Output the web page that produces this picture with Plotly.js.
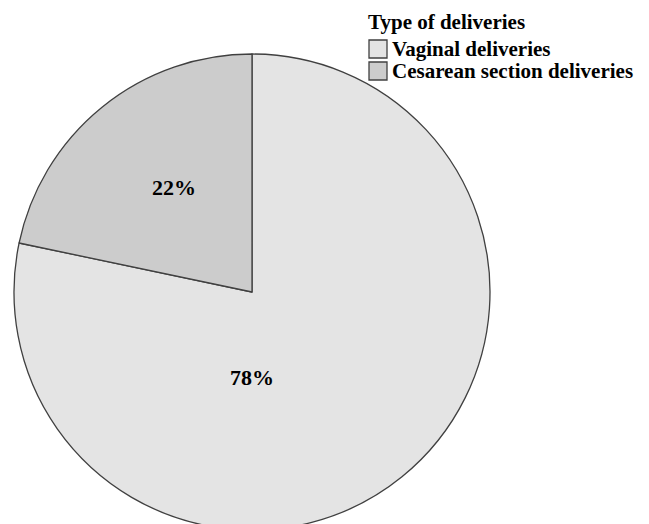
<!DOCTYPE html>
<html>
<head>
<meta charset="utf-8">
<script src="https://cdn.plot.ly/plotly-3.0.1.min.js"></script>
<style>
html,body{margin:0;padding:0;overflow:hidden;background:#fff;}
#wrap{width:649px;height:524px;overflow:hidden;position:relative;}
#chart{width:649px;height:540px;}
</style>
</head>
<body>
<div id="wrap"><div id="chart"></div></div>
<script>
const categories = ["Vaginal deliveries", "Cesarean section deliveries"];
const values = [78.3, 21.7];
const colors = ["#e4e4e4", "#cccccc"];
const legendTitle = "Type of deliveries";

const total = values.reduce((a, b) => a + b, 0);
const pctText = values.map(v => Math.round(v / total * 100) + "%");

const W = 649;
const H = 540;
const fontFam = "'Liberation Serif', 'Times New Roman', serif";
const px = x => x / W;
const py = y => 1 - y / H;

const trace = {
  type: "pie",
  labels: categories,
  values: values,
  sort: false,
  direction: "clockwise",
  rotation: 0,
  textinfo: "none",
  hoverinfo: "label+percent",
  marker: { colors: colors, line: { color: "#404040", width: 1.3 } },
  domain: { x: [px(14), px(490)], y: [py(530), py(54)] }
};

// custom legend (title, swatches, labels)
const shapes = [];
const annotations = [
  { text: "<b>" + legendTitle + "</b>", x: px(366), y: py(22), xref: "paper", yref: "paper",
    xanchor: "left", yanchor: "middle", showarrow: false,
    font: { family: fontFam, size: 21, color: "#000" } }
];
categories.forEach((c, i) => {
  const top = 40 + i * 22;
  shapes.push({ type: "rect", xref: "paper", yref: "paper",
    x0: px(369), x1: px(387), y0: py(top + 18), y1: py(top),
    fillcolor: colors[i], line: { color: "#404040", width: 1.3 } });
  annotations.push({ text: "<b>" + c + "</b>", x: px(390), y: py(top + 9), xref: "paper", yref: "paper",
    xanchor: "left", yanchor: "middle", showarrow: false,
    font: { family: fontFam, size: 21, color: "#000" } });
});

// slice percentage labels
const labelPos = [[252, 377], [174, 187]];
values.forEach((v, i) => {
  annotations.push({ text: "<b>" + pctText[i] + "</b>", x: px(labelPos[i][0]), y: py(labelPos[i][1]),
    xref: "paper", yref: "paper", xanchor: "center", yanchor: "middle", showarrow: false,
    font: { family: fontFam, size: 22, color: "#000" } });
});

const layout = {
  width: W,
  height: H,
  margin: { l: 0, r: 0, t: 0, b: 0 },
  paper_bgcolor: "#ffffff",
  font: { family: fontFam, color: "#000000" },
  showlegend: false,
  shapes: shapes,
  annotations: annotations
};

Plotly.newPlot("chart", [trace], layout, { displayModeBar: false, staticPlot: true });
</script>
</body>
</html>
